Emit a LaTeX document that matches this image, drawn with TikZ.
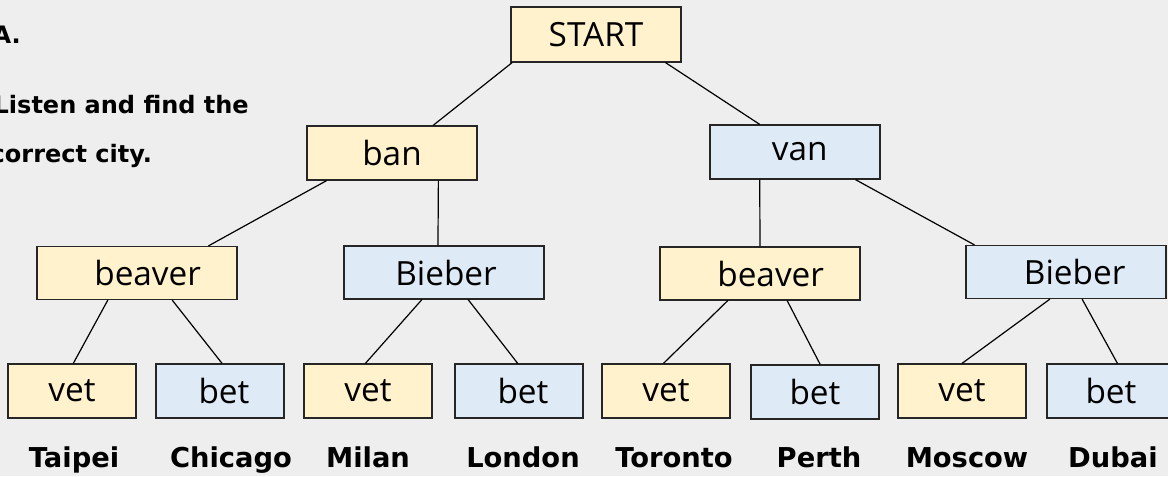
\documentclass[tikz,border=0pt]{standalone}
\usepackage{fontspec}
\setmainfont{Open Sans}
\newfontfamily\cityfont{DejaVu Sans}
\usetikzlibrary{calc}
\definecolor{bg}{HTML}{EEEEEE}
\definecolor{ylw}{HTML}{FFF2CC}
\definecolor{blu}{HTML}{DEEBF7}
\tikzset{
  box/.style={draw=black!85, line width=0.9pt, inner sep=0pt, font=\fontsize{25}{30}\selectfont},
  topbox/.style={box, minimum width=127.5pt, minimum height=41.25pt},
  midbox/.style={box, minimum width=150pt, minimum height=39.75pt},
  leafbox/.style={box, minimum width=96pt, minimum height=40.5pt},
  yl/.style={fill=ylw},
  bl/.style={fill=blu},
  city/.style={anchor=base, font=\cityfont\bfseries\fontsize{20.5}{24}\selectfont},
  instr/.style={anchor=base west, font=\cityfont\bfseries\fontsize{18}{22}\selectfont},
  link/.style={line width=0.9pt, black}
}
\begin{document}
\begin{tikzpicture}[x=0.75pt,y=-0.75pt]
\useasboundingbox (0,0) rectangle (1168,476);
\fill[bg] (0,0) rectangle (1168,476);
\clip (0,0) rectangle (1168,476);

\node[instr] (ta) at (-12,43) {A.};
\node[instr] (tb) at (-11,113) {Listen and find the};
\node[instr] (tc) at (-14,162) {correct city.};

\node[topbox,yl] (st) at (596,34.5) {START};
\node[midbox,yl,minimum width=127.5pt,minimum height=40.5pt] (ban) at (392,153) {ban};
\node[midbox,bl,minimum width=127.5pt,minimum height=40.5pt] (van) at (795,152) {\hspace*{7pt}van};

\node[midbox,yl] (bv1) at (137,273) {\hspace*{16pt}beaver};
\node[midbox,bl] (bb1) at (444,272.5) {\hspace*{3pt}Bieber};
\node[midbox,yl] (bv2) at (760,273.5) {\hspace*{16pt}beaver};
\node[midbox,bl] (bb2) at (1066,272) {\hspace*{13pt}Bieber};

\node[leafbox,yl] (v1) at (72,391) {vet};
\node[leafbox,bl] (b1) at (220,391) {\hspace*{6pt}bet};
\node[leafbox,yl] (v2) at (368,391) {vet};
\node[leafbox,bl] (b2) at (519,391) {\hspace*{6pt}bet};
\node[leafbox,yl] (v3) at (666,391) {vet};
\node[leafbox,bl] (b3) at (815,392) {bet};
\node[leafbox,yl] (v4) at (962,391) {vet};
\node[leafbox,bl] (b4) at (1111,391) {bet};

\node[city] (c1) at (74,467) {Taipei};
\node[city] (c2) at (231,467) {Chicago};
\node[city] (c3) at (368,467) {Milan};
\node[city] (c4) at (523,467) {London};
\node[city] (c5) at (674,467) {Toronto};
\node[city] (c6) at (819,467) {Perth};
\node[city] (c7) at (967,467) {Moscow};
\node[city] (c8) at (1113,467) {Dubai};

\draw[link] ($(st.south west)!0.01!(st.south east)$) -- ($(ban.north west)!0.74!(ban.north east)$);
\draw[link] ($(st.south west)!0.906!(st.south east)$) -- ($(van.north west)!0.294!(van.north east)$);
\draw[link] ($(ban.south west)!0.118!(ban.south east)$) -- ($(bv1.north west)!0.855!(bv1.north east)$);
\draw[link] ($(ban.south west)!0.771!(ban.south east)$) -- ($(bb1.north west)!0.47!(bb1.north east)$);
\draw[link] ($(van.south west)!0.294!(van.south east)$) -- ($(bv2.north west)!0.5!(bv2.north east)$);
\draw[link] ($(van.south west)!0.853!(van.south east)$) -- ($(bb2.north west)!0.045!(bb2.north east)$);
\draw[link] ($(bv1.south west)!0.355!(bv1.south east)$) -- ($(v1.north west)!0.51!(v1.north east)$);
\draw[link] ($(bv1.south west)!0.675!(bv1.south east)$) -- ($(b1.north west)!0.516!(b1.north east)$);
\draw[link] ($(bb1.south west)!0.39!(bb1.south east)$) -- ($(v2.north west)!0.48!(v2.north east)$);
\draw[link] ($(bb1.south west)!0.62!(bb1.south east)$) -- ($(b2.north west)!0.49!(b2.north east)$);
\draw[link] ($(bv2.south west)!0.34!(bv2.south east)$) -- ($(v3.north west)!0.48!(v3.north east)$);
\draw[link] ($(bv2.south west)!0.635!(bv2.south east)$) -- ($(b3.north west)!0.54!(b3.north east)$);
\draw[link] ($(bb2.south west)!0.42!(bb2.south east)$) -- ($(v4.north west)!0.5!(v4.north east)$);
\draw[link] ($(bb2.south west)!0.58!(bb2.south east)$) -- ($(b4.north west)!0.55!(b4.north east)$);
\end{tikzpicture}
\end{document}
